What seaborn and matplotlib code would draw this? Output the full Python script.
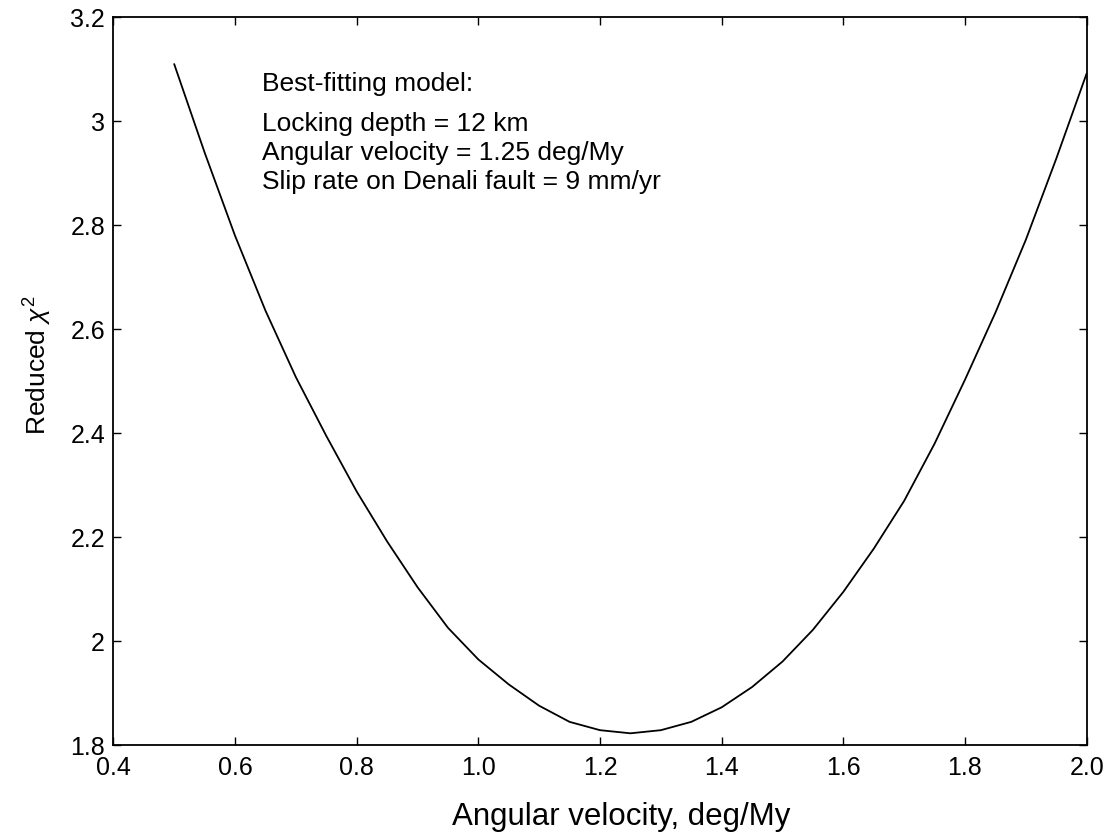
import matplotlib
matplotlib.use("Agg")
import matplotlib.pyplot as plt
import seaborn as sns
import pandas as pd

# Reduced chi-square misfit versus the angular velocity of the block
angular_velocity = [0.50, 0.55, 0.60, 0.65, 0.70, 0.75, 0.80, 0.85, 0.90, 0.95,
                    1.00, 1.05, 1.10, 1.15, 1.20, 1.25, 1.30, 1.35, 1.40, 1.45,
                    1.50, 1.55, 1.60, 1.65, 1.70, 1.75, 1.80, 1.85, 1.90, 1.95,
                    2.00]
reduced_chi2 = [3.110, 2.940, 2.780, 2.636, 2.508, 2.395, 2.288, 2.192, 2.104, 2.026,
                1.965, 1.917, 1.876, 1.845, 1.829, 1.823, 1.829, 1.845, 1.873, 1.912,
                1.961, 2.022, 2.095, 2.178, 2.270, 2.380, 2.503, 2.632, 2.772, 2.928,
                3.092]

x_ticks = [0.4, 0.6, 0.8, 1.0, 1.2, 1.4, 1.6, 1.8, 2.0]
x_tick_labels = ["0.4", "0.6", "0.8", "1.0", "1.2", "1.4", "1.6", "1.8", "2.0"]
y_ticks = [1.8, 2.0, 2.2, 2.4, 2.6, 2.8, 3.0, 3.2]
y_tick_labels = ["1.8", "2", "2.2", "2.4", "2.6", "2.8", "3", "3.2"]

model_notes = ["Best-fitting model:",
               "Locking depth = 12 km",
               "Angular velocity = 1.25 deg/My",
               "Slip rate on Denali fault = 9 mm/yr"]

sns.set_theme(style="ticks")
plt.rcParams["font.family"] = ["Liberation Sans", "DejaVu Sans"]
plt.rcParams["mathtext.fontset"] = "custom"
plt.rcParams["mathtext.rm"] = "Liberation Sans"
plt.rcParams["mathtext.it"] = "Liberation Sans:italic"

df = pd.DataFrame({"omega": angular_velocity, "chi2": reduced_chi2})

fig = plt.figure(figsize=(11.19, 8.34), dpi=100)
ax = fig.add_axes([0.1013, 0.1064, 0.8698, 0.8729])

sns.lineplot(data=df, x="omega", y="chi2", ax=ax, color="black", linewidth=1.3)

ax.set_xlim(0.4, 2.0)
ax.set_ylim(1.8, 3.2)
ax.set_xticks(x_ticks)
ax.set_xticklabels(x_tick_labels)
ax.set_yticks(y_ticks)
ax.set_yticklabels(y_tick_labels)

ax.tick_params(axis="both", direction="in", length=6, width=1.0, colors="black",
               labelsize=18, top=True, right=True)
ax.tick_params(axis="x", pad=8)
ax.tick_params(axis="y", pad=6)

for side in ["left", "right", "top", "bottom"]:
    ax.spines[side].set_visible(True)
    ax.spines[side].set_color("black")
    ax.spines[side].set_linewidth(1.3)

ax.set_xlabel("Angular velocity, deg/My", fontsize=22.5, color="black")
ax.set_ylabel("Reduced $\\chi^2$", fontsize=19, color="black")
ax.xaxis.set_label_coords(0.5216, -0.0985)
ax.yaxis.set_label_coords(-0.078, 0.522)
ax.xaxis.label.set_verticalalignment("center")
ax.yaxis.label.set_verticalalignment("center")

# Model summary block; the heading sits a little apart from the three parameters
note_y = [0.8988, 0.8438, 0.8039, 0.7641]
for text, yy in zip(model_notes, note_y):
    ax.text(0.1525, yy, text, transform=ax.transAxes, fontsize=19,
            ha="left", va="baseline", color="black")

fig.savefig("out.png", dpi=100, facecolor="white")
